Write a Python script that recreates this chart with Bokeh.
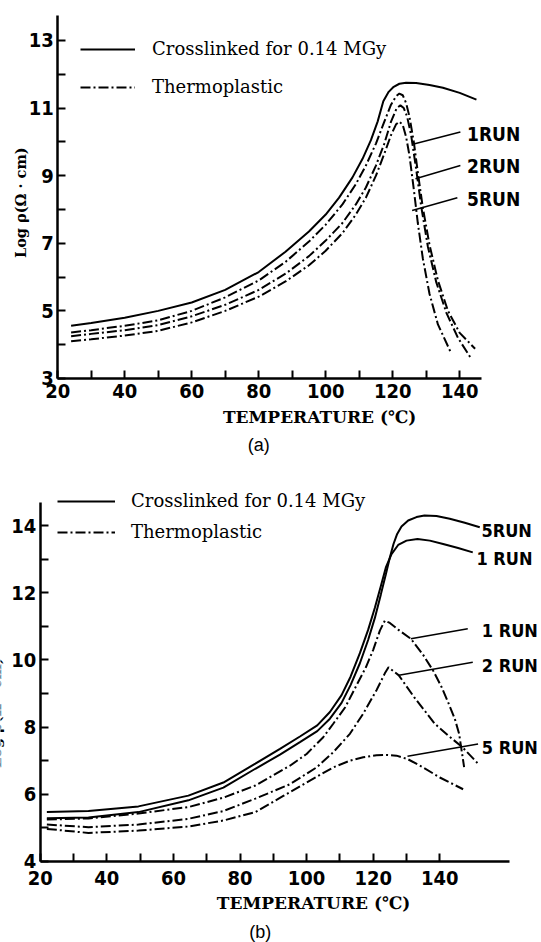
import math
from bokeh.plotting import figure
from bokeh.models import FixedTicker, Label, Legend, LegendItem, Range1d
from bokeh.layouts import column
from bokeh.embed import file_html
from bokeh.resources import INLINE

# ---------------- data: panel (a) ----------------
a_cross_T = [24, 30, 40, 50, 60, 70, 80, 88, 95, 100, 104, 108, 111, 113.5, 115.5, 117.2, 118.8, 120.3, 122, 124, 127, 131, 135, 140, 145]
a_cross_v = [4.56, 4.64, 4.8, 5.0, 5.25, 5.62, 6.15, 6.75, 7.35, 7.85, 8.35, 8.95, 9.5, 10.05, 10.6, 11.2, 11.48, 11.63, 11.72, 11.75, 11.74, 11.68, 11.6, 11.45, 11.25]

a_run1_T = [24, 30, 40, 50, 60, 70, 80, 88, 95, 100, 105, 109, 112, 115, 117.5, 119.5, 121, 122, 123, 124, 125, 126.3, 127.5, 129, 131, 133.5, 136.5, 140, 144.6]
a_run1_v = [4.36, 4.43, 4.56, 4.72, 5.0, 5.4, 5.9, 6.45, 7.05, 7.55, 8.15, 8.75, 9.3, 9.95, 10.6, 11.1, 11.35, 11.43, 11.38, 11.15, 10.75, 10.0, 9.1, 8.05, 6.95, 5.9, 5.0, 4.35, 3.88]

a_run2_T = [24, 30, 40, 50, 60, 70, 80, 88, 95, 100, 105, 109, 112, 115, 117.5, 119.5, 121.2, 122.3, 123.3, 124.3, 125.5, 127, 128.5, 130.5, 133, 136, 139.5, 143.4]
a_run2_v = [4.25, 4.32, 4.43, 4.58, 4.84, 5.18, 5.62, 6.1, 6.62, 7.08, 7.6, 8.15, 8.65, 9.3, 9.95, 10.6, 11.0, 11.08, 11.0, 10.75, 10.2, 9.2, 8.1, 6.9, 5.85, 4.95, 4.2, 3.59]

a_run5_T = [24, 30, 40, 50, 60, 70, 80, 88, 95, 100, 105, 109, 112, 115, 117.5, 119.5, 121, 122, 123, 124, 125, 126.3, 127.5, 129, 131, 133.5, 137.3]
a_run5_v = [4.1, 4.16, 4.27, 4.41, 4.66, 5.0, 5.42, 5.87, 6.35, 6.78, 7.3, 7.85, 8.35, 9.0, 9.65, 10.2, 10.52, 10.6, 10.5, 10.15, 9.6, 8.6, 7.6, 6.55, 5.5, 4.6, 3.78]

# ---------------- data: panel (b) ----------------
b_cross1_T = [22, 34.5, 49.5, 64.5, 75, 84.6, 92, 98, 103.2, 107, 110.5, 113.2, 116, 118.5, 120.5, 122.3, 123.8, 125.5, 127.5, 130, 133.3, 137, 141, 145.5, 149.9]
b_cross1_v = [5.47, 5.5, 5.64, 5.96, 6.35, 6.91, 7.35, 7.72, 8.05, 8.45, 8.95, 9.5, 10.2, 10.9, 11.55, 12.2, 12.75, 13.15, 13.42, 13.55, 13.6, 13.55, 13.45, 13.33, 13.2]

b_cross5_T = [22, 34.5, 49.5, 64.5, 75, 84.6, 92, 98, 103.2, 107, 110.5, 113.2, 116, 118.5, 120.5, 122.3, 123.8, 125, 126.1, 127.2, 128.5, 130.5, 133, 135.4, 139, 143, 147.5, 152]
b_cross5_v = [5.29, 5.31, 5.47, 5.82, 6.2, 6.76, 7.18, 7.55, 7.88, 8.25, 8.72, 9.25, 9.9, 10.6, 11.25, 11.95, 12.55, 13.05, 13.45, 13.75, 13.97, 14.15, 14.25, 14.3, 14.28, 14.2, 14.08, 13.95]

b_run1_T = [22, 34.5, 49.5, 64.5, 75, 84.6, 95, 100, 105, 108, 111.6, 114.5, 117.8, 120, 122, 123.5, 125, 127.5, 131.3, 135, 138, 140.5, 142.7, 144.5, 145.8, 147.3]
b_run1_v = [5.25, 5.28, 5.43, 5.62, 5.9, 6.26, 6.85, 7.2, 7.7, 8.1, 8.59, 9.15, 9.78, 10.3, 10.87, 11.17, 11.1, 10.9, 10.63, 10.15, 9.68, 9.2, 8.69, 8.25, 7.8, 6.81]

b_run2_T = [22, 34.5, 49.5, 64.5, 75, 84.6, 95, 103, 108, 113, 117, 121, 123.5, 124.6, 127.7, 132.3, 138.5, 142.5, 146.8, 151.5]
b_run2_v = [5.1, 5.02, 5.1, 5.27, 5.5, 5.87, 6.3, 6.8, 7.25, 7.8, 8.4, 9.1, 9.6, 9.78, 9.54, 8.89, 8.1, 7.75, 7.4, 6.91]

b_run5_T = [22, 34.5, 49.5, 64.5, 75, 84.6, 93, 100, 108, 113, 117, 121, 124.1, 127, 130.3, 135, 140, 147]
b_run5_v = [4.97, 4.85, 4.92, 5.04, 5.22, 5.47, 5.95, 6.35, 6.8, 7.0, 7.1, 7.16, 7.17, 7.15, 7.05, 6.8, 6.5, 6.15]

a_xticks = [20, 40, 60, 80, 100, 120, 140]
a_xminor = [30, 50, 70, 90, 110, 130]
a_yticks = [3, 5, 7, 9, 11, 13]
a_yminor = [4, 6, 8, 10, 12]
b_xticks = [20, 40, 60, 80, 100, 120, 140]
b_xminor = [30, 50, 70, 90, 110, 130]
b_yticks = [4, 6, 8, 10, 12, 14]
b_yminor = [5, 7, 9, 11, 13]

LEGEND_CROSS = "Crosslinked for 0.14 MGy"
LEGEND_THERMO = "Thermoplastic"
XLABEL = "TEMPERATURE (\u2103)"
YLABEL = "Log \u03c1(\u03a9 \u00b7 cm)"

SERIF = "DejaVu Serif"
COND = "DejaVu Sans Condensed, Liberation Sans Narrow, DejaVu Sans, sans-serif"
SANS = "Liberation Sans"
DASHDOT = "10 3 2 3"
LW = 2
W = 541


def base_fig(height, xr, yr, xbounds, ybounds, xt, xm, yt, ym, xstand):
    p = figure(width=W, height=height, x_range=Range1d(*xr), y_range=Range1d(*yr),
               output_backend="svg", toolbar_location=None,
               min_border_left=0, min_border_right=0,
               min_border_top=0, min_border_bottom=0)
    p.outline_line_color = None
    p.xgrid.visible = False
    p.ygrid.visible = False
    p.background_fill_color = "white"
    p.border_fill_color = "white"
    p.xaxis.ticker = FixedTicker(ticks=xt, minor_ticks=xm)
    p.yaxis.ticker = FixedTicker(ticks=yt, minor_ticks=ym)
    p.xaxis.fixed_location = ybounds[0]
    p.yaxis.fixed_location = xbounds[0]
    p.xaxis.bounds = xbounds
    p.yaxis.bounds = ybounds
    for ax in (p.xaxis, p.yaxis):
        ax.axis_line_width = 2.5
        ax.axis_line_color = "black"
        ax.major_tick_in = 8
        ax.major_tick_out = 0
        ax.minor_tick_in = 8
        ax.minor_tick_out = 0
        ax.major_tick_line_width = 2
        ax.minor_tick_line_width = 2
        ax.major_tick_line_color = "black"
        ax.minor_tick_line_color = "black"
        ax.major_label_text_font = COND
        ax.major_label_text_font_style = "bold"
        ax.major_label_text_font_size = "20px"
        ax.major_label_text_color = "black"
    p.xaxis.major_label_standoff = xstand
    p.yaxis.major_label_standoff = 4
    return p


def label(p, x, y, text, font, size, align="left", style="normal", angle=0.0):
    p.add_layout(Label(x=x, y=y, text=text, text_font=font, text_font_size=size,
                       text_font_style=style, text_align=align, text_baseline="middle",
                       text_color="black", angle=angle))


def legend(p, r_cross, r_thermo, loc, gw, standoff, spacing):
    lg = Legend(items=[LegendItem(label=LEGEND_CROSS, renderers=r_cross),
                       LegendItem(label=LEGEND_THERMO, renderers=r_thermo)],
                location=loc, glyph_width=gw, glyph_height=20, label_height=20,
                label_standoff=standoff, spacing=spacing, padding=0, margin=0,
                border_line_color=None, background_fill_alpha=0,
                label_text_font=SERIF, label_text_font_size="18px",
                label_text_color="black")
    p.add_layout(lg)


# ---------------- panel (a) ----------------
pa = base_fig(470, (2.925, 164.42), (0.278, 14.183), (20, 146.5), (3, 13.74),
              a_xticks, a_xminor, a_yticks, a_yminor, 6)
ra_c = pa.line(a_cross_T, a_cross_v, line_color="black", line_width=LW)
ra1 = pa.line(a_run1_T, a_run1_v, line_color="black", line_width=LW, line_dash=DASHDOT)
ra2 = pa.line(a_run2_T, a_run2_v, line_color="black", line_width=LW, line_dash=DASHDOT)
ra5 = pa.line(a_run5_T, a_run5_v, line_color="black", line_width=LW, line_dash=DASHDOT)
legend(pa, [ra_c], [ra1], (80, 373), 55, 17, 17)

for (x0, y0, x1, y1, ty, txt) in [(126.3, 9.94, 140.2, 10.29, 10.24, "1RUN"),
                                  (126.8, 8.91, 140.2, 9.30, 9.30, "2RUN"),
                                  (125.8, 7.97, 139.3, 8.35, 8.32, "5RUN")]:
    pa.line([x0, x1], [y0, y1], line_color="black", line_width=1.5)
    label(pa, 142.2, ty, txt, COND, "19px", style="bold")

label(pa, 9.0, 8.2, YLABEL, SERIF, "14.5px", align="center", style="bold", angle=math.pi / 2)
label(pa, 98.2, 1.85, XLABEL, SERIF, "17px", align="center", style="bold")
label(pa, 80.0, 1.02, "(a)", SANS, "18px", align="center")

# ---------------- panel (b) ----------------
pb = base_fig(472, (8.078, 170.54), (1.589, 15.637), (20, 160.8), (4, 14.68),
              b_xticks, b_xminor, b_yticks, b_yminor, 10)
rb_c1 = pb.line(b_cross1_T, b_cross1_v, line_color="black", line_width=LW)
rb_c5 = pb.line(b_cross5_T, b_cross5_v, line_color="black", line_width=LW)
rb1 = pb.line(b_run1_T, b_run1_v, line_color="black", line_width=LW, line_dash=DASHDOT)
rb2 = pb.line(b_run2_T, b_run2_v, line_color="black", line_width=LW, line_dash=DASHDOT)
rb5 = pb.line(b_run5_T, b_run5_v, line_color="black", line_width=LW, line_dash=DASHDOT)
legend(pb, [rb_c1], [rb1], (57, 400), 58, 16, 10)

label(pb, 152.5, 13.85, "5RUN", COND, "18px", style="bold")
label(pb, 151.0, 13.02, "1 RUN", COND, "18px", style="bold")
for (x0, y0, x1, y1, ty, txt) in [(131.3, 10.63, 148.4, 10.93, 10.88, "1 RUN"),
                                  (127.7, 9.54, 149.9, 9.93, 9.83, "2 RUN"),
                                  (130.3, 7.13, 151.5, 7.50, 7.39, "5 RUN")]:
    pb.line([x0, x1], [y0, y1], line_color="black", line_width=1.5)
    label(pb, 152.6, ty, txt, COND, "18px", style="bold")

# y-axis title of panel (b) lies mostly beyond the left edge, as in the reference
label(pb, 6.7, 8.43, YLABEL, SERIF, "14.5px", align="center", style="bold", angle=math.pi / 2)
label(pb, 102.1, 2.75, XLABEL, SERIF, "17px", align="center", style="bold")
label(pb, 86.1, 1.89, "(b)", SANS, "18px", align="center")

layout = column(pa, pb, spacing=0)
open("out.html", "w").write(file_html(layout, INLINE))
